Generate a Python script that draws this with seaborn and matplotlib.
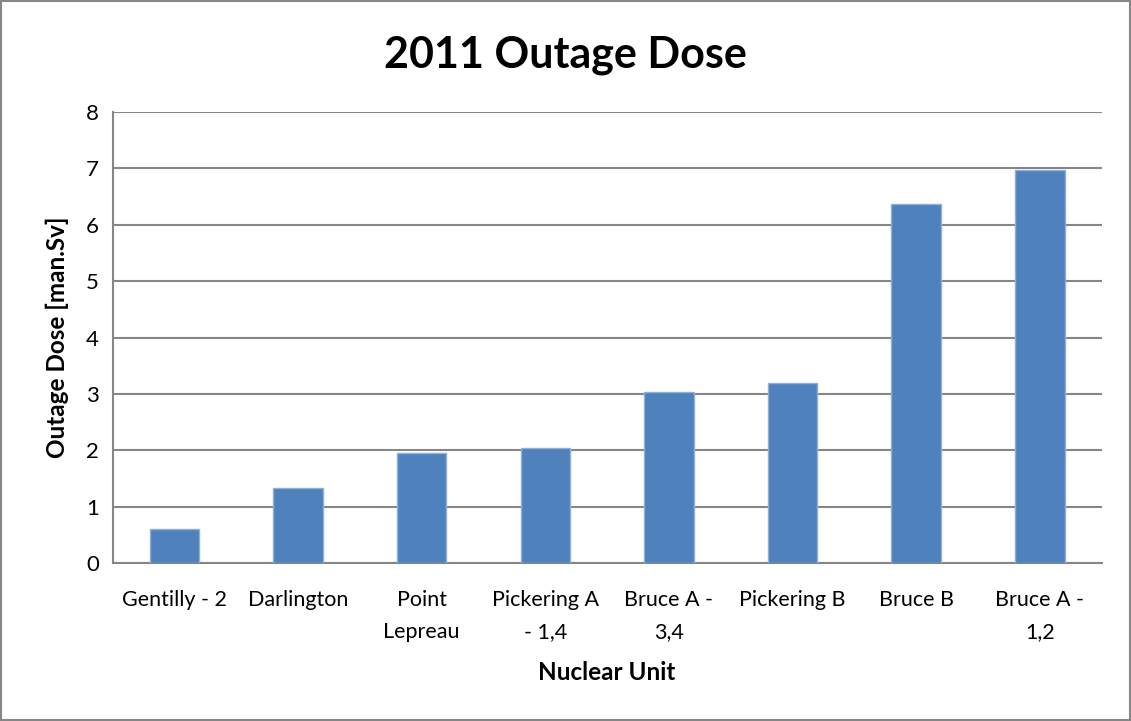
import matplotlib.pyplot as plt
import numpy as np
import pandas as pd
import seaborn as sns

# data
units = ["Gentilly - 2", "Darlington", "Point Lepreau", "Pickering A - 1,4",
         "Bruce A - 3,4", "Pickering B", "Bruce B", "Bruce A - 1,2"]
dose = [0.60, 1.33, 1.95, 2.05, 3.03, 3.19, 6.37, 6.97]
tick_labels = ["Gentilly - 2", "Darlington", "Point\nLepreau", "Pickering A\n- 1,4",
               "Bruce A -\n3,4", "Pickering B", "Bruce B", "Bruce A -\n1,2"]
y_ticks = [0, 1, 2, 3, 4, 5, 6, 7, 8]

df = pd.DataFrame({"unit": units, "dose": dose})

sns.set_style("white")
plt.rcParams['font.family'] = ['Lato', 'DejaVu Sans']
plt.rcParams['text.color'] = 'black'
plt.rcParams['xtick.color'] = 'black'
plt.rcParams['ytick.color'] = 'black'
plt.rcParams['axes.labelcolor'] = 'black'

fig = plt.figure(figsize=(11.31, 7.21), dpi=100)
ax = fig.add_axes([0.0996, 0.2187, 0.8744, 0.6264])

grid_col = "#868686"
sns.barplot(data=df, x="unit", y="dose", color="#4F81BD", width=0.4,
            edgecolor="#8EB0DA", linewidth=1, saturation=1, ax=ax, zorder=3)

ax.set_ylim(0, 8)
ax.set_xlim(-0.5, len(units) - 0.5)
ax.set_yticks(y_ticks)
ax.yaxis.grid(True, color=grid_col, linewidth=1.5, zorder=0)
ax.set_axisbelow(True)

# category labels on majors, tick marks on the boundaries
ax.set_xticks(range(len(units)))
ax.set_xticklabels(tick_labels, fontsize=15.5, linespacing=1.75, va="top")
ax.tick_params(axis="x", which="major", length=0, pad=19)
ax.set_xticks(np.arange(-0.5, len(units), 1), minor=True)
ax.tick_params(axis="x", which="minor", length=6, width=1.5, color=grid_col, direction="out")
ax.tick_params(axis="y", length=6, width=1.5, color=grid_col, labelcolor="black",
               direction="out", labelsize=16, pad=4)
ax.tick_params(axis="x", labelcolor="black")

for s in ["top", "right"]:
    ax.spines[s].set_visible(False)
for s in ["left", "bottom"]:
    ax.spines[s].set_color(grid_col)
    ax.spines[s].set_linewidth(1.5)

ax.set_xlabel("Nuclear Unit", fontsize=17.5, fontweight="bold", labelpad=14)
ax.set_ylabel("Outage Dose [man.Sv]", fontsize=17.5, fontweight="bold", labelpad=12)
fig.suptitle("2011 Outage Dose", fontsize=31, fontweight="bold", x=0.5, y=0.952)

# outer chart border
fig.patches.append(plt.Rectangle((0.001, 0.001), 0.998, 0.998, transform=fig.transFigure,
                                 fill=False, edgecolor="#868686", linewidth=1.5))

fig.savefig("out.png", dpi=100)
